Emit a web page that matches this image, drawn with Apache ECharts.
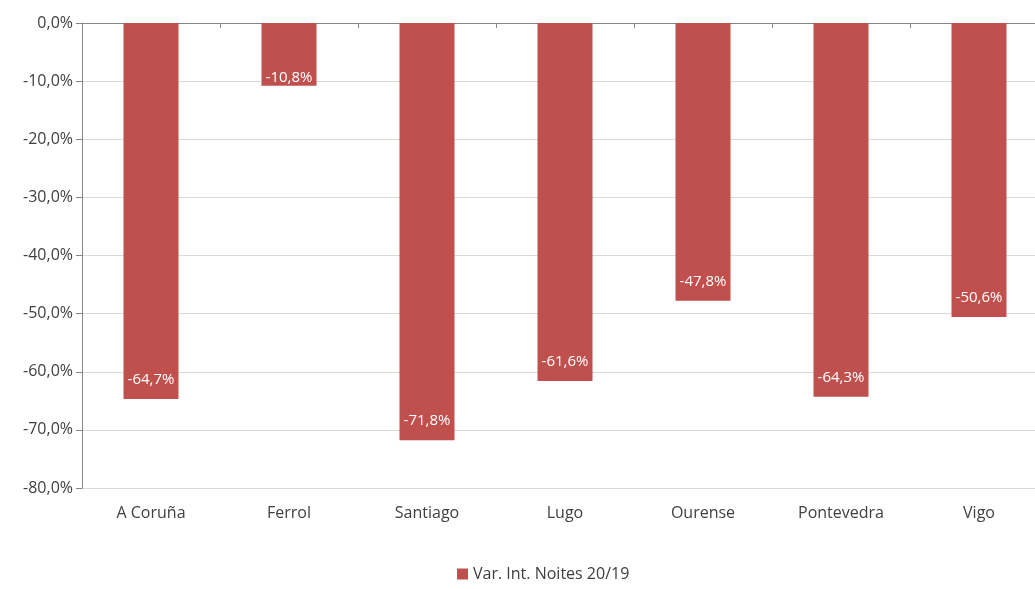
<!DOCTYPE html>
<html>
<head>
<meta charset="utf-8">
<script src="https://cdn.jsdelivr.net/npm/echarts@6/dist/echarts.min.js"></script>
<style>
html,body{margin:0;padding:0;background:#fff;overflow:hidden;}
#main{width:1048px;height:589px;}
</style>
</head>
<body>
<div id="main"></div>
<script>
// cidades e variación de noites
var cidades = ['A Coruña', 'Ferrol', 'Santiago', 'Lugo', 'Ourense', 'Pontevedra', 'Vigo'];
var variacion = [-64.7, -10.8, -71.8, -61.6, -47.8, -64.3, -50.6];
var serieNome = 'Var. Int. Noites 20/19';

function pct(v) {
	return v.toFixed(1).replace('.', ',') + '%';
}

// a barra curta (Ferrol) leva a etiqueta máis abaixo
var datos = variacion.map(function(v) {
	return {value: v, label: {distance: v > -20 ? 1 : 12}};
});

var myChart = echarts.init(document.getElementById('main'));
var option = {
	animation: false,
	textStyle: {fontFamily: 'Open Sans'},
	grid: {left: 82, top: 23, right: 0, bottom: 101},
	legend: {
		bottom: 2,
		left: 452,
		itemWidth: 11,
		itemHeight: 11,
		icon: 'rect',
		itemGap: 6,
		textStyle: {fontSize: 16, color: '#404040', fontFamily: 'Open Sans'},
		data: [serieNome]
	},
	xAxis: [{
		type: 'category',
		data: cidades,
		position: 'bottom',
		axisLine: {show: false},
		axisTick: {show: false},
		axisLabel: {fontSize: 16, color: '#404040', margin: 17}
	}, {
		type: 'category',
		data: cidades,
		position: 'top',
		axisLine: {show: true, lineStyle: {color: '#868686', width: 1}},
		axisTick: {show: true, inside: true, length: 5, lineStyle: {color: '#868686'}},
		axisLabel: {show: false}
	}],
	yAxis: {
		type: 'value',
		min: -80,
		max: 0,
		interval: 10,
		axisLine: {show: true, lineStyle: {color: '#868686'}},
		axisTick: {show: true, length: 6, lineStyle: {color: '#868686'}},
		splitLine: {lineStyle: {color: '#d9d9d9'}},
		axisLabel: {
			fontSize: 16,
			color: '#404040',
			margin: 9,
			formatter: function(v) { return pct(v); }
		}
	},
	series: [{
		name: serieNome,
		type: 'bar',
		data: datos,
		barWidth: 55,
		itemStyle: {color: '#C0504D'},
		label: {
			show: true,
			position: 'insideBottom',
			color: '#fff',
			fontSize: 15,
			formatter: function(p) { return pct(p.value); }
		}
	}]
};
myChart.setOption(option);
</script>
</body>
</html>
